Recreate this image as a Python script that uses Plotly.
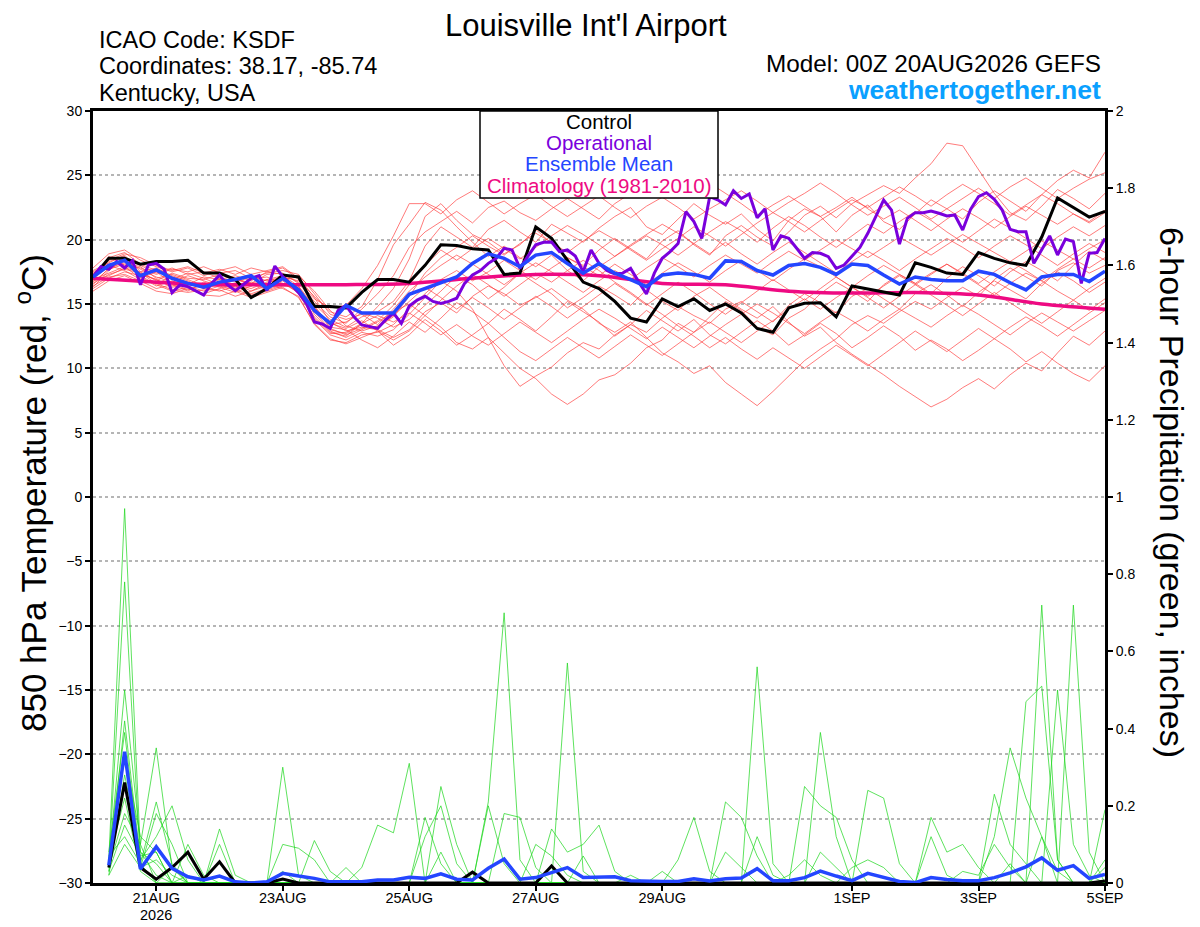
import plotly.graph_objects as go
import pandas as pd

# time axes: 6-hourly ensemble, 3-hourly operational, daily climatology
t6 = pd.date_range("2026-08-20 00:00", periods=65, freq="6h")
t3 = pd.date_range("2026-08-20 00:00", periods=129, freq="3h")
t24 = pd.date_range("2026-08-20 00:00", periods=17, freq="D")

tick_dates = ["2026-08-21", "2026-08-23", "2026-08-25", "2026-08-27",
              "2026-08-29", "2026-09-01", "2026-09-03", "2026-09-05"]
tick_labels = ["21AUG", "23AUG", "25AUG", "27AUG", "29AUG", "1SEP", "3SEP", "5SEP"]

# 850 hPa temperature (C)
control_t = [17.1, 18.55, 18.55, 18.1, 18.3, 18.3, 18.4, 17.4, 17.4, 16.9, 15.5, 16.2, 17.25,
             17.1, 14.8, 14.8, 14.7, 15.9, 16.9, 16.9, 16.7, 18.0, 19.6, 19.55, 19.3, 19.2,
             17.3, 17.4, 21.0, 20.1, 18.4, 16.7, 16.2, 15.2, 13.9, 13.6, 15.4, 14.8, 15.4,
             14.5, 15.0, 14.3, 13.1, 12.8, 14.7, 15.05, 15.1, 14.0, 16.4, 16.15, 15.95, 15.7,
             18.2, 17.85, 17.4, 17.3, 19.0, 18.55, 18.2, 18.0, 20.2, 23.25, 22.5, 21.75, 22.2]

mean_t = [17.1, 18.0, 18.4, 17.2, 17.65, 17.0, 16.6, 16.3, 16.7, 16.9, 17.2, 16.2, 17.0,
          16.1, 14.5, 13.5, 14.9, 14.3, 14.3, 14.3, 15.75, 16.2, 16.6, 17.1, 18.15, 18.9,
          18.55, 17.9, 18.8, 19.0, 18.15, 17.4, 18.15, 17.4, 16.9, 16.35, 17.25, 17.4, 17.3,
          17.0, 18.35, 18.3, 17.6, 17.25, 18.0, 18.15, 17.85, 17.3, 18.1, 18.0, 17.25, 16.55,
          17.1, 16.9, 16.8, 16.8, 17.55, 17.3, 16.65, 16.1, 17.1, 17.3, 17.3, 16.75, 17.55]

oper_t = [17.13, 17.9, 17.7, 18.3, 17.8, 18.37, 16.5, 18.03, 18.16, 17.7, 15.88, 16.48, 16.35,
          16.04, 15.7, 16.6, 17.25, 16.5, 16.04, 16.5, 17.0, 17.2, 16.04, 17.95, 17.13, 16.55,
          15.88, 15.05, 13.6, 13.45, 13.1, 14.5, 14.9, 14.0, 13.37, 13.24, 13.1, 13.76, 14.3,
          13.5, 14.85, 15.3, 15.6, 15.2, 15.05, 15.2, 15.45, 16.6, 17.25, 17.6, 18.16, 18.55,
          19.33, 19.2, 17.77, 18.7, 19.6, 19.8, 19.82, 19.07, 19.2, 18.73, 17.5, 19.2, 18.16,
          17.6, 17.33, 17.4, 17.77, 16.74, 15.78, 17.4, 18.55, 19.07, 19.7, 22.18, 21.4, 20.1,
          23.34, 23.1, 22.7, 23.8, 23.2, 23.55, 21.7, 22.4, 19.2, 20.3, 20.1, 19.33, 18.55,
          19.0, 18.94, 18.68, 17.77, 18.03, 18.73, 19.4, 20.49, 21.74, 23.08, 22.3, 19.66, 21.66,
          22.1, 22.1, 22.23, 22.05, 21.84, 21.92, 20.75, 22.36, 23.34, 23.65, 23.13, 22.3, 20.8,
          20.62, 20.62, 18.16, 19.2, 20.29, 18.81, 20.05, 19.85, 16.6, 18.94, 19.0, 20.1]

clim_t = [17.0, 16.7, 16.5, 16.5, 16.5, 16.6, 17.0, 17.3, 17.2, 16.6, 16.5, 16.0, 15.85,
          15.9, 15.7, 15.0, 14.6]

members_t = [
    [16.5, 17.8, 18.2, 17.9, 17.0, 17.3, 16.9, 16.4, 16.9, 17.2, 16.8, 17.5, 17.8,
     16.9, 15.0, 13.8, 13.2, 14.0, 14.4, 15.2, 16.8, 19.5, 21.0, 20.2, 19.4, 20.8,
     21.5, 20.6, 19.8, 21.2, 20.5, 19.8, 20.9, 21.8, 22.5, 21.0, 20.4, 21.6, 22.8,
     21.9, 21.2, 22.0, 20.8, 19.9, 21.5, 22.4, 21.8, 20.6, 21.9, 22.7, 21.4, 20.8,
     22.0, 23.1, 22.4, 21.6, 22.9, 23.8, 23.0, 22.2, 23.5, 24.6, 25.4, 24.8, 26.8],
    [17.2, 18.6, 19.0, 18.1, 17.6, 16.9, 17.4, 17.0, 16.5, 16.2, 16.9, 17.1, 16.6,
     16.0, 14.0, 12.8, 12.5, 13.5, 14.8, 16.2, 18.5, 21.8, 22.8, 21.5, 20.4, 19.8,
     18.9, 19.6, 20.8, 19.7, 18.6, 18.0, 19.2, 20.1, 19.3, 18.5, 19.9, 20.7, 19.6,
     18.8, 20.3, 21.1, 20.2, 19.5, 20.6, 21.9, 22.6, 21.7, 22.8, 23.5, 24.2, 23.6,
     24.8, 25.9, 27.5, 27.3, 25.4, 23.6, 22.1, 21.5, 22.6, 23.9, 23.2, 22.4, 23.6],
    [16.2, 17.0, 17.5, 17.2, 16.5, 16.0, 16.3, 15.8, 16.2, 16.6, 16.0, 16.4, 16.8,
     15.8, 13.8, 12.6, 12.2, 12.8, 12.5, 13.0, 14.2, 15.5, 16.8, 16.0, 14.6, 12.4,
     10.2, 8.6, 9.4, 10.1, 11.2, 12.0, 11.5, 12.6, 13.4, 12.8, 13.9, 14.8, 14.1,
     13.5, 14.6, 15.2, 14.4, 13.6, 14.9, 15.8, 15.1, 14.3, 15.6, 16.2, 15.4, 14.6,
     15.8, 16.5, 15.7, 14.8, 15.9, 16.8, 16.1, 15.4, 16.6, 17.5, 16.8, 15.9, 16.7],
    [17.6, 18.2, 18.8, 17.5, 16.8, 17.4, 17.0, 16.9, 17.3, 17.0, 16.4, 16.9, 17.2,
     16.4, 14.2, 12.9, 12.4, 13.0, 13.6, 14.4, 15.0, 14.1, 13.2, 12.0, 11.5, 12.4,
     11.2, 10.0, 9.2, 8.0, 7.2, 8.0, 9.1, 9.5, 10.4, 11.6, 12.2, 13.5, 12.8,
     14.0, 15.2, 14.5, 13.2, 12.6, 13.9, 14.6, 15.8, 16.7, 16.0, 15.2, 16.5, 17.3,
     16.6, 15.8, 17.0, 17.9, 17.2, 16.4, 17.5, 18.3, 17.6, 16.8, 18.0, 19.1, 18.4],
    [16.9, 17.4, 17.9, 17.0, 17.5, 16.6, 16.1, 16.5, 17.0, 16.7, 17.1, 16.3, 16.9,
     17.1, 15.5, 13.6, 12.9, 13.2, 13.0, 12.4, 13.0, 14.4, 15.1, 14.3, 15.6, 16.4,
     15.8, 14.9, 15.5, 16.2, 15.3, 14.6, 13.5, 12.8, 13.6, 12.4, 11.2, 10.5, 9.6,
     10.2, 8.9, 8.0, 7.1, 8.2, 9.4, 10.6, 11.5, 12.3, 13.4, 14.1, 13.5, 14.4,
     15.2, 14.6, 15.5, 16.3, 15.6, 16.9, 17.8, 17.1, 16.4, 17.6, 18.2, 17.4, 18.0],
    [16.4, 17.1, 17.3, 16.8, 16.2, 16.5, 16.0, 16.7, 16.3, 15.9, 16.4, 16.9, 16.5,
     16.2, 14.6, 13.4, 13.6, 14.3, 13.9, 13.2, 13.8, 14.9, 16.0, 17.2, 16.5, 15.4,
     16.3, 17.4, 16.6, 15.8, 14.7, 15.5, 16.4, 15.7, 14.9, 16.1, 15.2, 14.5, 15.6,
     16.3, 15.4, 14.6, 13.9, 14.8, 13.6, 12.5, 13.2, 12.0, 11.1, 10.3, 9.5, 8.6,
     7.8, 7.0, 7.6, 8.5, 9.2, 8.4, 9.5, 10.4, 9.8, 11.2, 12.5, 11.8, 12.9],
    [17.8, 18.9, 19.2, 18.4, 17.9, 17.5, 17.8, 17.2, 17.6, 17.9, 17.3, 17.6, 17.9,
     17.0, 14.9, 13.2, 13.0, 12.2, 11.6, 12.5, 13.6, 12.8, 13.9, 15.1, 14.4, 13.5,
     14.6, 13.8, 12.9, 14.0, 15.2, 14.4, 13.6, 12.5, 13.4, 14.5, 13.7, 12.9, 13.8,
     12.6, 11.9, 12.8, 13.7, 12.9, 11.8, 12.6, 13.5, 12.7, 11.6, 12.4, 13.3, 12.5,
     11.4, 12.2, 11.5, 10.6, 11.4, 12.3, 11.5, 10.5, 11.3, 10.4, 9.6, 9.0, 10.2],
    [17.0, 17.9, 18.4, 17.7, 17.1, 16.7, 17.2, 16.8, 16.4, 17.0, 16.6, 17.3, 17.4,
     16.6, 15.2, 14.0, 13.5, 14.6, 15.8, 17.2, 19.4, 20.6, 21.4, 22.2, 21.3, 22.5,
     23.0, 22.1, 21.5, 22.4, 23.2, 22.4, 21.6, 22.8, 23.6, 24.1, 23.4, 24.5, 25.3,
     24.4, 23.6, 22.8, 21.9, 22.7, 23.4, 22.6, 21.8, 22.5, 23.3, 22.4, 21.6, 22.3,
     21.5, 20.7, 21.6, 22.4, 21.7, 20.9, 21.8, 22.6, 21.9, 21.2, 22.0, 21.4, 22.3],
    [16.6, 17.3, 17.7, 17.4, 16.9, 16.4, 16.6, 16.2, 16.6, 16.3, 16.7, 16.5, 16.2,
     15.6, 13.4, 12.2, 12.0, 12.6, 12.8, 13.4, 14.6, 15.8, 16.9, 17.6, 16.8, 17.5,
     18.4, 17.6, 16.9, 17.8, 18.6, 17.9, 17.2, 18.1, 17.3, 16.5, 17.4, 18.2, 17.5,
     16.7, 17.6, 18.4, 17.6, 16.8, 17.7, 18.5, 17.9, 17.1, 16.3, 17.2, 18.0, 17.3,
     16.6, 17.4, 18.1, 17.3, 16.5, 15.7, 16.6, 17.4, 16.8, 16.0, 15.3, 16.2, 17.0],
    [16.3, 17.6, 18.5, 18.0, 17.4, 17.8, 17.3, 17.5, 17.0, 16.8, 17.2, 16.8, 17.1,
     16.8, 15.6, 14.4, 14.0, 14.8, 16.9, 19.6, 21.2, 22.9, 22.3, 21.0, 19.8, 18.7,
     19.5, 18.6, 17.9, 18.8, 17.6, 16.8, 17.9, 18.7, 19.5, 20.3, 19.6, 18.8, 19.7,
     20.6, 21.4, 20.7, 19.8, 20.9, 21.8, 21.1, 20.2, 19.4, 20.3, 21.2, 20.5, 21.4,
     22.2, 21.5, 20.6, 19.8, 20.7, 21.6, 20.9, 20.1, 19.3, 20.2, 21.0, 20.3, 21.1],
    [17.4, 18.0, 17.6, 16.9, 16.6, 17.1, 16.7, 16.3, 16.0, 16.4, 15.8, 16.2, 16.6,
     15.9, 13.9, 12.7, 12.8, 13.5, 14.1, 13.6, 14.3, 13.5, 12.6, 13.4, 12.5, 11.8,
     12.7, 13.6, 12.8, 12.0, 12.9, 13.8, 14.6, 13.9, 13.1, 12.3, 13.2, 12.4, 11.6,
     12.5, 13.4, 14.2, 15.0, 14.3, 13.5, 12.7, 13.6, 14.4, 13.7, 12.9, 13.8, 14.6,
     13.9, 13.2, 14.1, 14.9, 14.2, 13.4, 12.6, 13.5, 14.3, 13.6, 12.9, 13.7, 14.5],
    [17.1, 18.3, 18.7, 17.3, 16.9, 16.3, 16.5, 17.1, 16.9, 16.5, 16.2, 16.7, 17.0,
     16.1, 14.4, 13.0, 12.7, 13.4, 13.2, 14.0, 15.6, 17.4, 18.6, 19.4, 20.3, 19.5,
     18.8, 19.7, 20.5, 19.8, 19.0, 19.9, 20.7, 20.0, 19.2, 18.4, 19.3, 20.1, 21.0,
     20.3, 19.5, 20.4, 21.3, 22.1, 21.4, 20.6, 21.5, 22.3, 23.1, 22.5, 23.3, 24.1,
     23.4, 22.6, 23.5, 24.3, 23.6, 22.8, 21.9, 22.7, 23.5, 22.8, 22.0, 21.3, 22.1],
    [16.7, 17.7, 18.1, 17.8, 17.3, 17.7, 17.5, 17.9, 17.4, 17.6, 17.0, 17.4, 17.6,
     17.3, 15.8, 14.2, 13.8, 14.2, 13.4, 14.6, 16.0, 17.1, 18.0, 18.8, 18.1, 17.3,
     16.5, 17.4, 18.2, 17.5, 16.7, 15.9, 16.8, 17.6, 16.9, 17.8, 18.6, 17.9, 17.1,
     18.0, 18.8, 18.1, 17.4, 18.3, 19.1, 18.4, 19.2, 20.0, 19.3, 18.6, 19.4, 20.2,
     19.5, 18.8, 19.6, 20.4, 19.7, 19.0, 18.3, 19.1, 19.9, 19.2, 18.5, 19.3, 20.0],
    [16.0, 16.8, 17.2, 16.6, 16.0, 15.8, 16.2, 15.7, 15.6, 16.0, 15.5, 15.9, 16.3,
     15.5, 13.5, 12.3, 11.9, 12.4, 12.9, 11.8, 12.6, 13.8, 12.9, 11.8, 12.6, 13.5,
     12.4, 11.3, 10.6, 11.5, 12.4, 11.6, 10.8, 11.7, 12.6, 11.8, 11.0, 11.9, 12.8,
     13.6, 12.8, 12.0, 12.9, 13.7, 14.6, 15.4, 14.6, 15.5, 16.3, 15.6, 16.4, 17.2,
     16.5, 17.3, 18.1, 17.4, 16.6, 17.5, 18.3, 17.6, 16.8, 17.7, 18.5, 17.8, 18.6],
    [17.3, 18.4, 18.9, 18.6, 18.0, 17.6, 17.9, 17.4, 17.7, 17.3, 17.8, 17.5, 17.3,
     16.7, 15.4, 14.7, 14.9, 16.2, 18.0, 20.3, 22.8, 22.8, 22.0, 23.1, 23.8, 22.9,
     22.0, 22.8, 23.5, 22.6, 21.8, 22.6, 23.4, 22.5, 21.7, 22.6, 23.3, 22.5, 21.6,
     22.4, 23.1, 23.8, 23.0, 22.1, 22.9, 23.6, 24.4, 23.6, 22.7, 21.9, 22.6, 23.3,
     22.5, 21.6, 22.4, 23.2, 24.0, 23.2, 24.1, 24.8, 24.0, 23.2, 24.0, 24.7, 25.2],
    [17.5, 18.1, 18.3, 17.1, 16.4, 16.8, 16.4, 16.0, 16.4, 16.1, 15.7, 16.0, 16.4,
     16.3, 14.7, 13.5, 13.1, 13.7, 12.9, 12.2, 12.9, 14.1, 15.3, 16.4, 17.3, 16.5,
     15.6, 16.5, 17.4, 16.7, 17.6, 18.4, 17.6, 16.7, 15.9, 15.0, 14.2, 13.3, 12.5,
     11.6, 12.4, 11.5, 10.7, 11.6, 10.8, 10.0, 10.9, 11.8, 11.0, 10.2, 11.1, 12.0,
     12.9, 12.1, 11.3, 12.2, 13.1, 12.3, 13.2, 14.0, 13.3, 12.5, 13.4, 14.3, 15.1],
    [16.8, 17.2, 17.8, 17.5, 17.8, 17.2, 16.8, 16.2, 16.5, 16.9, 16.6, 16.1, 16.5,
     16.4, 14.8, 13.1, 12.6, 13.1, 13.7, 14.9, 16.5, 18.0, 19.2, 18.4, 19.3, 20.1,
     19.3, 18.5, 19.4, 20.3, 21.1, 20.4, 19.6, 18.7, 19.6, 20.4, 21.2, 20.5, 19.7,
     18.9, 19.8, 18.9, 18.1, 19.0, 19.8, 19.0, 18.2, 17.4, 18.3, 19.1, 18.4, 17.6,
     18.5, 19.3, 20.1, 19.4, 18.6, 19.5, 20.3, 19.6, 18.8, 18.0, 18.9, 19.7, 19.0],
    [17.0, 18.7, 18.0, 17.4, 16.6, 16.1, 15.9, 16.1, 16.1, 15.6, 16.0, 16.6, 17.1,
     17.2, 16.0, 14.5, 13.3, 12.9, 13.3, 14.1, 15.2, 16.3, 15.5, 14.6, 15.5, 14.7,
     13.8, 14.7, 15.6, 14.8, 13.9, 14.8, 15.7, 16.6, 15.8, 14.9, 15.8, 16.7, 15.9,
     15.0, 14.2, 15.1, 16.0, 16.9, 16.1, 15.3, 16.2, 17.1, 16.3, 15.5, 14.7, 15.6,
     16.5, 15.7, 14.9, 14.1, 15.0, 15.9, 15.1, 14.3, 13.5, 14.4, 15.3, 14.5, 15.4],
]

# 6-hour precipitation (inches); no value at forecast hour 0
control_p = [None, .04, .26, .04, .01, .04, .08, .01, .055, 0, 0, 0, .01,
             0, 0, 0, 0, 0, 0, 0, 0, 0, 0, 0, .028, 0,
             0, 0, 0, .044, 0, 0, 0, 0, 0, 0, 0, 0, 0,
             0, 0, 0, 0, 0, 0, 0, 0, 0, 0, 0, 0, 0,
             0, 0, 0, 0, 0, 0, 0, 0, 0, 0, 0, 0, .005]

mean_p = [None, .046, .34, .036, .094, .038, .016, .008, .018, .003, 0, .003, .025,
          .018, .012, .003, .003, .003, .008, .008, .015, .012, .024, .01, .008, .038,
          .062, .01, .014, .027, .04, .014, .014, .016, .006, .004, .004, .004, .011,
          .005, .011, .013, .037, .006, .006, .014, .031, .018, .006, .025, .014, .004,
          .001, .014, .009, .006, .006, .014, .026, .042, .065, .033, .045, .012, .022]

members_p = [
    [None, .06, .97, .08, .02, 0, 0, 0, 0, 0, 0, 0, .30,
     .02, 0, 0, 0, 0, 0, 0, 0, 0, 0, 0, 0, 0,
     0, 0, 0, 0, .57, .03, 0, 0, 0, 0, 0, 0, 0,
     0, 0, 0, 0, 0, 0, 0, 0, 0, 0, 0, 0, 0,
     0, 0, 0, 0, 0, 0, 0, 0, .72, .06, 0, 0, 0],
    [None, .04, .78, .05, .21, .05, 0, 0, 0, 0, 0, 0, 0,
     0, 0, 0, 0, 0, 0, 0, 0, 0, 0, 0, 0, .21,
     .70, .06, 0, 0, 0, 0, 0, 0, 0, 0, 0, 0, 0,
     0, 0, 0, .12, .02, 0, 0, 0, 0, 0, 0, 0, 0,
     0, 0, 0, 0, 0, 0, 0, 0, 0, 0, .72, .08, 0],
    [None, .05, .50, .10, .35, .04, 0, 0, 0, 0, 0, 0, 0,
     0, 0, 0, 0, 0, 0, 0, 0, 0, 0, 0, 0, 0,
     0, 0, 0, 0, 0, 0, 0, 0, 0, 0, 0, 0, 0,
     0, 0, 0, .56, .05, 0, 0, 0, 0, 0, 0, 0, 0,
     0, 0, 0, 0, 0, .12, .35, .22, .12, 0, 0, 0, 0],
    [None, .03, .42, .06, .12, .20, .06, 0, 0, 0, 0, 0, 0,
     0, 0, 0, 0, 0, 0, 0, 0, 0, 0, 0, 0, 0,
     0, 0, 0, 0, 0, 0, 0, 0, 0, 0, 0, 0, 0,
     0, 0, 0, 0, 0, 0, 0, .39, .12, 0, 0, 0, 0,
     0, 0, 0, 0, 0, 0, 0, .47, .51, .06, 0, 0, 0],
    [None, .08, .39, .04, .18, .10, 0, 0, .14, .02, 0, 0, 0,
     0, 0, 0, 0, 0, 0, 0, 0, 0, .25, .10, 0, 0,
     0, 0, 0, 0, 0, 0, 0, 0, 0, 0, 0, 0, 0,
     0, 0, 0, 0, 0, 0, .25, .20, .17, .06, 0, 0, 0,
     0, 0, 0, 0, 0, 0, 0, 0, 0, 0, 0, 0, .19],
    [None, .05, .33, .12, .08, 0, .10, .02, 0, 0, 0, 0, 0,
     0, 0, 0, 0, .04, .15, .13, .31, 0, 0, 0, 0, 0,
     0, 0, 0, 0, 0, 0, 0, 0, 0, 0, 0, 0, 0,
     0, 0, 0, 0, 0, 0, 0, 0, 0, 0, .24, .22, .05,
     0, 0, 0, 0, 0, 0, 0, 0, 0, 0, 0, 0, 0],
    [None, .02, .28, .08, .05, 0, 0, 0, .10, 0, 0, 0, 0,
     0, .11, .03, 0, 0, 0, 0, 0, .12, .20, .05, 0, 0,
     0, 0, 0, 0, 0, 0, 0, 0, 0, 0, 0, 0, 0,
     0, .21, .17, .07, 0, 0, 0, 0, 0, 0, 0, 0, 0,
     0, 0, 0, 0, 0, .23, .10, .05, 0, 0, 0, 0, 0],
    [None, .06, .22, .03, 0, 0, 0, 0, 0, 0, 0, 0, .10,
     .09, .06, 0, 0, 0, 0, 0, 0, 0, .08, 0, 0, 0,
     .18, .17, .04, 0, 0, 0, 0, 0, 0, 0, 0, .06, .17,
     .03, 0, 0, 0, 0, 0, 0, 0, 0, 0, 0, 0, 0,
     0, .17, .08, .10, .04, 0, 0, 0, 0, 0, 0, 0, 0],
    [None, .04, .18, .10, 0, .04, 0, 0, 0, 0, 0, 0, 0,
     0, 0, 0, 0, 0, 0, 0, 0, .17, .05, 0, 0, 0,
     0, 0, 0, .14, .08, .10, .15, .03, 0, 0, 0, 0, 0,
     0, 0, 0, 0, 0, 0, 0, .08, .04, 0, 0, 0, 0,
     0, 0, 0, 0, 0, 0, 0, 0, 0, .50, .10, .02, 0],
    [None, .03, .15, .07, .08, 0, .02, 0, 0, 0, 0, 0, 0,
     0, 0, 0, .04, 0, 0, 0, 0, 0, 0, 0, 0, .20,
     .05, 0, .10, .07, .02, 0, 0, 0, 0, 0, 0, 0, 0,
     0, 0, 0, 0, 0, .02, .06, .02, 0, 0, 0, 0, 0,
     0, .12, .02, 0, 0, 0, 0, 0, 0, 0, 0, 0, .06],
    [None, .07, .12, .05, 0, 0, 0, 0, 0, 0, 0, 0, .03,
     0, 0, 0, 0, 0, 0, 0, 0, 0, 0, 0, .03, 0,
     0, 0, 0, 0, 0, .07, 0, 0, 0, 0, .03, 0, 0,
     0, .08, .04, 0, 0, 0, 0, 0, 0, .04, .06, .04, 0,
     0, 0, 0, 0, 0, 0, .05, 0, .12, .03, 0, 0, .04],
    [None, .02, .10, .04, .06, .02, 0, 0, 0, 0, 0, 0, 0,
     0, 0, 0, 0, 0, 0, 0, 0, 0, 0, 0, 0, 0,
     0, 0, 0, 0, 0, 0, 0, 0, .02, 0, 0, 0, 0,
     0, 0, 0, 0, 0, 0, 0, 0, 0, 0, 0, 0, 0,
     0, 0, 0, .03, .02, .10, .04, 0, 0, 0, 0, 0, 0],
]

FONT = "Liberation Sans, Arial, sans-serif"
RED = "rgba(255,60,60,0.85)"
GREEN = "rgba(30,215,30,0.9)"
BLACK = "black"
PURPLE = "#7a00dc"
BLUE = "#2446ff"
PINK = "#ee0a82"

# the page has an 8px body margin, so the figure is drawn 8px smaller
PAGE = 8
W, H = 1200 - PAGE, 927 - PAGE
# plot area in page pixels: left 93, right 1105, top 111, bottom 883
L, R, T, B = 93, 1105, 111, 883


def px(x):
    return (x - L) / (R - L)


def py(y):
    return (B - y) / (B - T)


fig = go.Figure()

for m in members_t:
    fig.add_trace(go.Scatter(x=t6, y=m, mode="lines", line=dict(color=RED, width=0.8)))
for m in members_p:
    fig.add_trace(go.Scatter(x=t6, y=m, mode="lines", yaxis="y2",
                             line=dict(color=GREEN, width=0.8)))

fig.add_trace(go.Scatter(x=t24, y=clim_t, mode="lines", line=dict(color=PINK, width=3.5, shape="spline")))
fig.add_trace(go.Scatter(x=t6, y=control_t, mode="lines", line=dict(color=BLACK, width=3)))
fig.add_trace(go.Scatter(x=t3, y=oper_t, mode="lines", line=dict(color=PURPLE, width=3)))
fig.add_trace(go.Scatter(x=t6, y=mean_t, mode="lines", line=dict(color=BLUE, width=3.5)))
fig.add_trace(go.Scatter(x=t6, y=control_p, mode="lines", yaxis="y2", line=dict(color=BLACK, width=3)))
fig.add_trace(go.Scatter(x=t6, y=mean_p, mode="lines", yaxis="y2", line=dict(color=BLUE, width=3.5)))

fig.update_layout(
    width=W, height=H,
    margin=dict(l=L - PAGE, r=W - (R - PAGE), t=T - PAGE, b=H - (B - PAGE), autoexpand=False),
    paper_bgcolor="white", plot_bgcolor="white",
    showlegend=False,
    font=dict(family=FONT, color="black", size=14),
    xaxis=dict(
        range=["2026-08-20 00:00", "2026-09-05 00:00"],
        tickvals=tick_dates, ticktext=tick_labels, automargin=False,
        ticks="outside", ticklen=5, tickwidth=1.5, tickcolor="black",
        ticklabelstandoff=-5,
        showline=True, linecolor="black", linewidth=2.5, mirror=True,
        showgrid=False, zeroline=False, tickfont=dict(size=14.5),
    ),
    yaxis=dict(
        range=[-30, 30], dtick=5, tick0=-30, automargin=False,
        ticks="outside", ticklen=5, tickwidth=1.5, tickcolor="black",
        showline=True, linecolor="black", linewidth=3,
        showgrid=True, gridcolor="#b5b5b5", griddash="dot", gridwidth=1.5,
        zeroline=False, tickfont=dict(size=14),
    ),
    yaxis2=dict(
        range=[0, 2], dtick=0.2, tick0=0, overlaying="y", side="right", automargin=False,
        ticks="outside", ticklen=5, tickwidth=1.5, tickcolor="black",
        showline=True, linecolor="black", linewidth=3,
        showgrid=False, zeroline=False, tickfont=dict(size=14),
    ),
)

# year under the first date tick
fig.add_annotation(text="2026", xref="x", yref="paper", x="2026-08-21", y=py(915),
                   showarrow=False, font=dict(size=14.5), xanchor="center", yanchor="middle")

# legend box drawn as a shape with coloured text lines
fig.add_shape(type="rect", xref="paper", yref="paper",
              x0=px(480), x1=px(718), y0=py(198), y1=py(111),
              line=dict(color="black", width=1.5), fillcolor="white", layer="above")

legend_items = [("Control", BLACK, 121), ("Operational", PURPLE, 142),
                ("Ensemble Mean", BLUE, 163), ("Climatology (1981-2010)", PINK, 185)]
for text, color, ypix in legend_items:
    fig.add_annotation(text=text, xref="paper", yref="paper", x=px(599), y=py(ypix),
                       showarrow=False, font=dict(size=20.5, color=color),
                       xanchor="center", yanchor="middle")

header = [
    ("Louisville Int'l Airport", 586, 25, 31, "center", "black"),
    ("ICAO Code: KSDF", 97, 40, 23.5, "left", "black"),
    ("Coordinates: 38.17, -85.74", 97, 66, 23.5, "left", "black"),
    ("Kentucky, USA", 97, 93, 23.5, "left", "black"),
    ("Model: 00Z 20AUG2026 GEFS", 1103, 63, 24.3, "right", "black"),
    ("<b>weathertogether.net</b>", 1103, 90, 26.5, "right", "#0aa0ff"),
]
for text, xpix, ypix, size, anchor, color in header:
    fig.add_annotation(text=text, xref="paper", yref="paper", x=px(xpix), y=py(ypix),
                       showarrow=False, font=dict(size=size, color=color),
                       xanchor=anchor, yanchor="middle")

fig.add_annotation(text="850 hPa Temperature (red, <sup>o</sup>C)", xref="paper", yref="paper",
                   x=px(31), y=py(493), textangle=-90, showarrow=False,
                   font=dict(size=35), xanchor="center", yanchor="middle")
fig.add_annotation(text="6-hour Precipitation (green, inches)", xref="paper", yref="paper",
                   x=px(1172), y=py(492), textangle=90, showarrow=False,
                   font=dict(size=34), xanchor="center", yanchor="middle")

fig.write_html("out.html")
